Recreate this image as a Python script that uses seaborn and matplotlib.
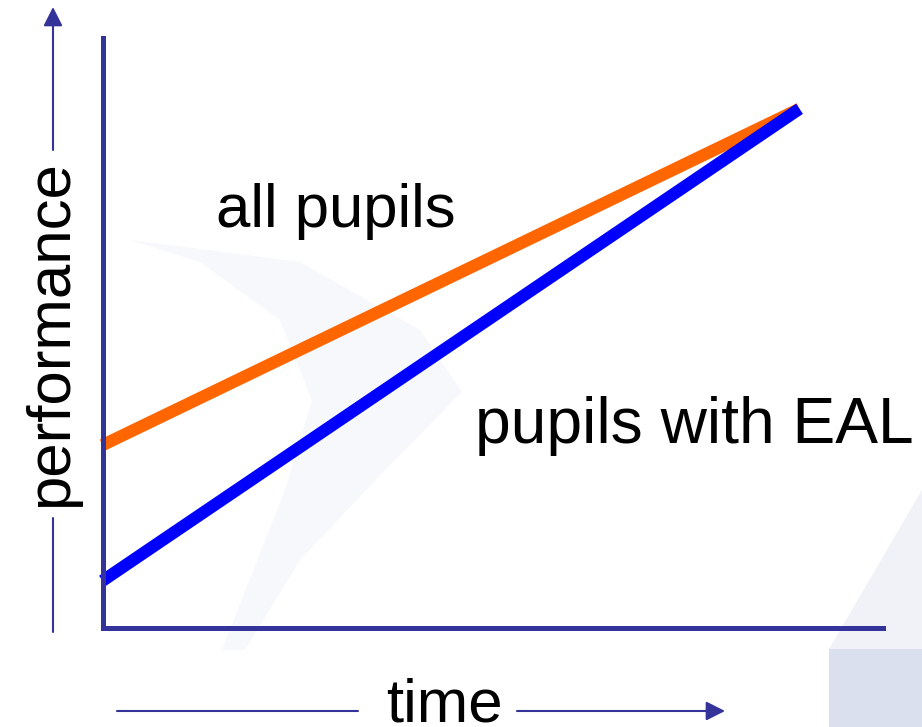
"""
plot.py
Schematic chart: performance over time for all pupils vs pupils with EAL.
"""

import matplotlib
matplotlib.use("Agg")
import matplotlib.pyplot as plt
from matplotlib.patches import FancyArrowPatch, Polygon, Rectangle
import pandas as pd
import seaborn as sns

# data (axis units 0..10)
time_pts = [0.0, 8.93]
all_pupils = [3.1, 8.8]
eal_pupils = [0.8, 8.8]
series_names = ["all pupils", "pupils with EAL"]
series_colors = ["#FF6600", "#0000FF"]

W, H = 922, 727
NAVY = "#333399"
FONT = ["Liberation Sans", "DejaVu Sans"]

sns.set_theme(style="white")
plt.rcParams["font.family"] = FONT


def px(x, y):
    """Figure pixel (from top-left) -> figure fraction."""
    return x / W, 1 - y / H


fig = plt.figure(figsize=(W / 100, H / 100), dpi=100)
fig.patch.set_facecolor("white")

# faint background decoration of the slide
fig.add_artist(Rectangle(px(829, 727), 93 / W, 78 / H, transform=fig.transFigure,
                         facecolor="#DAE0EE", edgecolor="none", zorder=0))
fig.add_artist(Polygon([px(829, 649), px(922, 490), px(922, 649)], closed=True,
                       transform=fig.transFigure, facecolor="#F0F2F8",
                       edgecolor="none", zorder=0))
swoosh = [(130, 240), (300, 262), (420, 330), (462, 392), (385, 470),
          (300, 560), (245, 650), (222, 650), (285, 490), (312, 400),
          (280, 320), (200, 262)]
fig.add_artist(Polygon([px(x, y) for x, y in swoosh], closed=True,
                       transform=fig.transFigure, facecolor="#F7F8FC",
                       edgecolor="none", zorder=0))

left, bottom = px(102.5, 628)
right, top = px(883, 38)
ax = fig.add_axes([left, bottom, right - left, top - bottom])
ax.patch.set_alpha(0)

df = pd.DataFrame({
    "time": time_pts * 2,
    "performance": all_pupils + eal_pupils,
    "group": [series_names[0]] * 2 + [series_names[1]] * 2,
})
sns.lineplot(data=df, x="time", y="performance", hue="group",
             palette=dict(zip(series_names, series_colors)), linewidth=8.8,
             solid_capstyle="butt", legend=False, ax=ax, clip_on=False)

ax.set_xlim(0, 10)
ax.set_ylim(0, 10)
ax.set_xticks([])
ax.set_yticks([])
ax.set_xlabel("")
ax.set_ylabel("")
for side in ["top", "right"]:
    ax.spines[side].set_visible(False)
for side in ["left", "bottom"]:
    ax.spines[side].set_color(NAVY)
    ax.spines[side].set_linewidth(3.6)

# annotations
fig.text(*px(216, 227), "all pupils", fontsize=44.5, ha="left", va="baseline",
         color="black")
fig.text(*px(475, 443), "pupils with EAL", fontsize=46.2, ha="left",
         va="baseline", color="black")

# axis labels with arrows drawn around them
fig.text(*px(52, 334), "performance", fontsize=44.5, rotation=90,
         ha="center", va="center", color="black")
fig.text(*px(444, 722), "time", fontsize=44.5, ha="center", va="baseline",
         color="black")

fig.add_artist(plt.Line2D(*zip(px(53, 632), px(53, 518)),
                          transform=fig.transFigure, color=NAVY, lw=1.5))
fig.add_artist(FancyArrowPatch(px(53, 150), px(53, 7), transform=fig.transFigure,
                               arrowstyle="-|>,head_length=1.15,head_width=0.58",
                               mutation_scale=10, color=NAVY, lw=1.5,
                               shrinkA=0, shrinkB=0))
fig.add_artist(plt.Line2D(*zip(px(117, 711), px(358, 711)),
                          transform=fig.transFigure, color=NAVY, lw=1.5))
fig.add_artist(FancyArrowPatch(px(517, 711), px(725, 711), transform=fig.transFigure,
                               arrowstyle="-|>,head_length=1.15,head_width=0.58",
                               mutation_scale=10, color=NAVY, lw=1.5,
                               shrinkA=0, shrinkB=0))

fig.savefig("out.png", dpi=100)
